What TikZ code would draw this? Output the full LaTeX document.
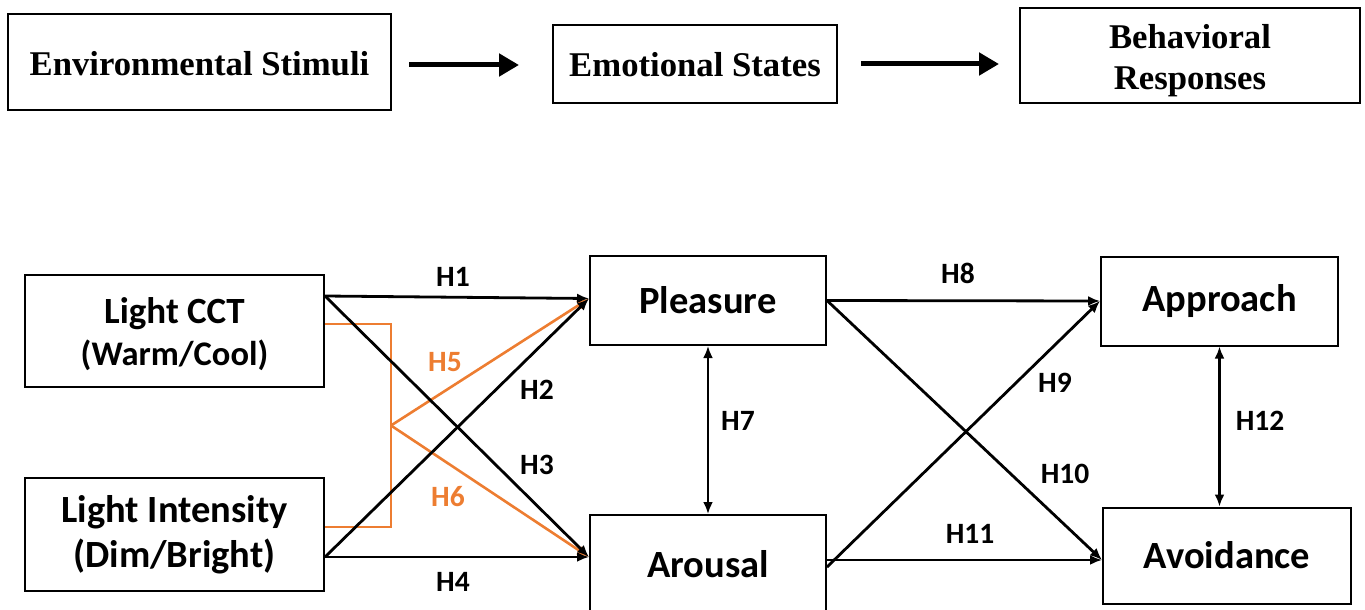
\documentclass[tikz,border=0pt]{standalone}
\usepackage{fontspec}
\setmainfont{Liberation Serif}
\newfontfamily\calib{Carlito}
\usetikzlibrary{arrows.meta,calc}
\definecolor{orng}{HTML}{ED7D31}
\begin{document}
\begin{tikzpicture}[x=1pt,y=-1pt,
  topbox/.style={draw=black,line width=2pt,inner sep=0pt,align=center,font=\fontsize{34.7}{40}\selectfont\bfseries},
  toptext/.style={inner sep=0pt,align=center,font=\fontsize{34.7}{41}\selectfont\bfseries},
  box/.style={draw=black,line width=2pt,inner sep=0pt,align=center,font=\calib\bfseries},
  boxtext/.style={inner sep=0pt,align=center,font=\calib\bfseries},
  bigbox/.style={box,font=\calib\bfseries\fontsize{38.5}{44}\selectfont},
  bigarrow/.style={line width=5pt,-{Triangle[length=20pt,width=22pt]}},
  arr/.style={line width=2.8pt,-{Latex[length=12pt,width=10pt]}},
  darr/.style={line width=2.8pt,{Latex[length=12pt,width=10pt]}-{Latex[length=12pt,width=10pt]}},
  oline/.style={draw=orng,line width=2.6pt},
  oarr/.style={draw=orng,line width=2.6pt,-{Latex[length=12pt,width=10pt]}},
  lab/.style={font=\calib\bfseries\fontsize{29.5}{34}\selectfont,inner sep=0pt},
  olab/.style={lab,text=orng}]
\useasboundingbox (0,0) rectangle (1365,610);
\clip (0,0) rectangle (1365,610);
% top row
\node[topbox,minimum width=383pt,minimum height=96pt] (es) at (199.5,62) {};
\node[toptext] (est) at ([yshift=-2pt]es.center) {Environmental Stimuli};
\node[topbox,minimum width=284pt,minimum height=78pt] (ems) at (695,64) {};
\node[toptext] (emst) at ([yshift=-1pt]ems.center) {Emotional States};
\node[topbox,minimum width=340pt,minimum height=95pt] (br) at (1190,55.5) {};
\node[toptext] (brt) at ([yshift=-5pt]br.center) {Behavioral\\Responses};
\draw[bigarrow] ([xshift=17pt,yshift=-3pt]es.east) -- ([xshift=-33pt,yshift=-1pt]ems.west);
\draw[bigarrow] ([xshift=23pt]ems.east) -- ([xshift=-20pt]br.west |- ems.east);
% bottom boxes
\node[box,minimum width=299pt,minimum height=112pt] (cct) at (174.5,331) {};
\node[boxtext] (cctt) at ([yshift=-3pt]cct.center)
  {{\fontsize{37}{43}\selectfont Light CCT}\\[9pt]{\fontsize{34.5}{43}\selectfont (Warm/Cool)}};
\node[box,minimum width=299pt,minimum height=113pt] (li) at (174.5,534.5) {};
\node[boxtext] (lit) at (li.center)
  {{\fontsize{38.5}{46}\selectfont Light Intensity}\\[9pt]{\fontsize{38.5}{46}\selectfont (Dim/Bright)}};
\node[bigbox,minimum width=236pt,minimum height=89pt] (pl) at (708,300.5) {Pleasure};
\node[bigbox,minimum width=236pt,minimum height=98pt] (ar) at (708,564) {Arousal};
\node[bigbox,minimum width=237pt,minimum height=89pt] (ap) at (1219.5,301) {Approach};
\node[bigbox,minimum width=248pt,minimum height=96pt] (av) at (1227,555.5) {Avoidance};
\coordinate (avin) at ([yshift=-4.5pt]av.west);
% orange bracket and links
\coordinate (br1) at ([xshift=66pt,yshift=7pt]cct.east);
\coordinate (br2) at ([xshift=66pt,yshift=7.5pt]li.east);
\coordinate (bm) at ($(br1)!0.5!(br2)$);
\draw[oline] ([yshift=7pt]cct.east) -- (br1) -- (br2) -- ([yshift=7.5pt]li.east);
\draw[oarr] (bm) -- ([yshift=2pt]pl.west);
\draw[oarr] (bm) -- ([yshift=7pt]ar.west);
% black links
\draw[arr] ([yshift=35pt]cct.east) -- ([yshift=2pt]pl.west);
\draw[arr] ([yshift=35pt]cct.east) -- ([yshift=7pt]ar.west);
\draw[arr] ([yshift=-22.5pt]li.east) -- ([yshift=2pt]pl.west);
\draw[arr] ([yshift=-22.5pt]li.east) -- ([yshift=7pt]ar.west);
\draw[darr] (pl.south) -- (ar.north);
\draw[arr] (pl.east) -- (ap.west);
\draw[arr] (pl.east) -- (avin);
\draw[arr] ([yshift=-3pt]ar.east) -- (ap.west);
\draw[arr] (ar.east |- avin) -- (avin);
\draw[darr] (ap.south) -- (ap.south |- av.north);
% labels
\node[lab] (h1) at (453,277) {H1};
\node[olab] (h5) at (445,362) {H5};
\node[lab] (h2) at (537,390) {H2};
\node[lab] (h3) at (537,465) {H3};
\node[olab] (h6) at (448,497) {H6};
\node[lab] (h4) at (453,582) {H4};
\node[lab] (h7) at (738,421) {H7};
\node[lab] (h8) at (958,273) {H8};
\node[lab] (h9) at (1055,383) {H9};
\node[lab] (h10) at (1065,474) {H10};
\node[lab] (h11) at (970,534) {H11};
\node[lab] (h12) at (1260,421) {H12};
\end{tikzpicture}
\end{document}
